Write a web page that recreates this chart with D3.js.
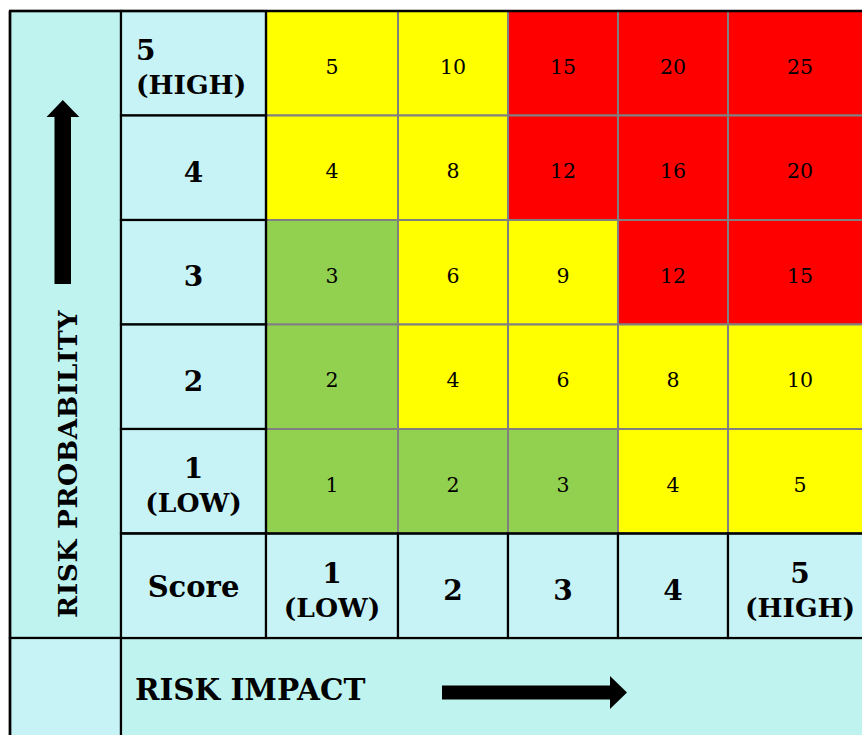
<!DOCTYPE html>
<html>
<head>
<meta charset="utf-8">
<script src="https://cdn.jsdelivr.net/npm/d3@7"></script>
<style>
  body { margin: 0; background: #fff; }
  svg { display: block; }
  text { font-family: "DejaVu Serif", Georgia, serif; fill: #000; }
</style>
</head>
<body>
<svg id="chart" width="862" height="735"></svg>
<script>
// Impact levels (columns, left to right) and probability levels (rows, top to bottom)
const impactLevels = [1, 2, 3, 4, 5];
const probabilityLevels = [5, 4, 3, 2, 1];
const impactLabels = [["1", "(LOW)"], ["2"], ["3"], ["4"], ["5", "(HIGH)"]];
const probabilityLabels = [["5", "(HIGH)"], ["4"], ["3"], ["2"], ["1", "(LOW)"]];
const scoreLabel = "Score";
const probabilityTitle = "RISK PROBABILITY";
const impactTitle = "RISK IMPACT";

// Risk scores per probability row
const scoresP5 = [5, 10, 15, 20, 25];
const scoresP4 = [4, 8, 12, 16, 20];
const scoresP3 = [3, 6, 9, 12, 15];
const scoresP2 = [2, 4, 6, 8, 10];
const scoresP1 = [1, 2, 3, 4, 5];

// Rating band of each cell
const ratingP5 = ["medium", "medium", "high", "high", "high"];
const ratingP4 = ["medium", "medium", "high", "high", "high"];
const ratingP3 = ["low", "medium", "medium", "high", "high"];
const ratingP2 = ["low", "medium", "medium", "medium", "medium"];
const ratingP1 = ["low", "low", "low", "medium", "medium"];

const scoreRows = [scoresP5, scoresP4, scoresP3, scoresP2, scoresP1];
const ratingRows = [ratingP5, ratingP4, ratingP3, ratingP2, ratingP1];

const ratingColor = d3.scaleOrdinal()
  .domain(["low", "medium", "high"])
  .range(["#92d050", "#ffff00", "#ff0000"]);

const headerFill = "#c7f2f6";
const axisFill = "#bff3ef";
const gridGray = "#808080";

const svg = d3.select("#chart");

// Rows: five probability rows plus the impact header row
const y = d3.scaleBand()
  .domain([...probabilityLevels, "score"])
  .range([11, 638]);

// Column edges: title strip, label column, five impact columns
const colKeys = ["axis", "label", ...impactLevels, "end"];
const xEdge = d3.scaleOrdinal()
  .domain(colKeys)
  .range([10, 121, 266, 398, 508, 618, 728, 872]);
const x = k => xEdge(k);
const w = k => xEdge(colKeys[colKeys.indexOf(k) + 1]) - xEdge(k);

// Flatten matrix into cells
const cells = [];
probabilityLevels.forEach((p, i) => {
  impactLevels.forEach((im, j) => {
    cells.push({ p, im, score: scoreRows[i][j], rating: ratingRows[i][j] });
  });
});

// Coloured score cells
const cellG = svg.append("g");
cellG.selectAll("rect")
  .data(cells)
  .join("rect")
  .attr("x", d => x(d.im))
  .attr("y", d => y(d.p))
  .attr("width", d => w(d.im))
  .attr("height", y.bandwidth())
  .attr("fill", d => ratingColor(d.rating))
  .attr("stroke", gridGray)
  .attr("stroke-width", 2);

cellG.selectAll("text")
  .data(cells)
  .join("text")
  .attr("x", d => x(d.im) + w(d.im) / 2)
  .attr("y", d => y(d.p) + y.bandwidth() / 2 + 10.5)
  .attr("text-anchor", "middle")
  .attr("font-size", 20.5)
  .text(d => d.score);

// Axis strips (left title column and bottom title row)
svg.append("rect")
  .attr("x", x("axis")).attr("y", y(5))
  .attr("width", w("axis")).attr("height", 638 - y(5))
  .attr("fill", axisFill).attr("stroke", "#000").attr("stroke-width", 2.2);
svg.append("rect")
  .attr("x", x("axis")).attr("y", 638)
  .attr("width", w("axis")).attr("height", 110)
  .attr("fill", headerFill).attr("stroke", "#000").attr("stroke-width", 2.2);
svg.append("rect")
  .attr("x", x("label")).attr("y", 638)
  .attr("width", x("end") - x("label")).attr("height", 110)
  .attr("fill", axisFill).attr("stroke", "#000").attr("stroke-width", 2.2);

// Header cells: probability labels (left) and impact labels (bottom)
const headerCells = [];
probabilityLevels.forEach((p, i) => headerCells.push({ col: "label", row: p, lines: probabilityLabels[i], start: i === 0 }));
headerCells.push({ col: "label", row: "score", lines: [scoreLabel], word: true });
impactLevels.forEach((im, j) => headerCells.push({ col: im, row: "score", lines: impactLabels[j] }));

const hg = svg.append("g");
hg.selectAll("rect")
  .data(headerCells)
  .join("rect")
  .attr("x", d => x(d.col))
  .attr("y", d => y(d.row))
  .attr("width", d => w(d.col))
  .attr("height", y.bandwidth())
  .attr("fill", headerFill)
  .attr("stroke", "#000")
  .attr("stroke-width", 2.2);

headerCells.forEach(d => {
  const top = y(d.row);
  const cx = x(d.col) + w(d.col) / 2;
  const g = hg.append("g");
  if (d.lines.length === 2) {
    const tx = d.start ? x(d.col) + 15 : cx;
    const anchor = d.start ? "start" : "middle";
    g.append("text").attr("x", tx).attr("y", top + 49)
      .attr("text-anchor", anchor).attr("font-weight", "bold").attr("font-size", 28)
      .text(d.lines[0]);
    g.append("text").attr("x", tx).attr("y", top + 83)
      .attr("text-anchor", anchor).attr("font-weight", "bold").attr("font-size", 26.5)
      .text(d.lines[1]);
  } else if (d.word) {
    g.append("text").attr("x", cx).attr("y", top + y.bandwidth() / 2 + 11)
      .attr("text-anchor", "middle").attr("font-weight", "bold").attr("font-size", 29)
      .text(d.lines[0]);
  } else {
    g.append("text").attr("x", cx).attr("y", top + y.bandwidth() / 2 + 14)
      .attr("text-anchor", "middle").attr("font-weight", "bold").attr("font-size", 28)
      .text(d.lines[0]);
  }
});

// Grid border between score area and header cells, and outer frame
svg.append("line").attr("x1", x("label")).attr("x2", x("end"))
  .attr("y1", y("score")).attr("y2", y("score")).attr("stroke", "#000").attr("stroke-width", 2.2);
svg.append("line").attr("x1", x(1)).attr("x2", x(1))
  .attr("y1", y(5)).attr("y2", y("score")).attr("stroke", "#000").attr("stroke-width", 2.2);
svg.append("line").attr("x1", x("axis") - 1).attr("x2", 862)
  .attr("y1", y(5)).attr("y2", y(5)).attr("stroke", "#000").attr("stroke-width", 2.6);
svg.append("line").attr("x1", x("axis")).attr("x2", x("axis"))
  .attr("y1", y(5)).attr("y2", 735).attr("stroke", "#000").attr("stroke-width", 2.6);

// Axis titles
svg.append("text")
  .attr("transform", "translate(77,464) rotate(-90)")
  .attr("text-anchor", "middle")
  .attr("font-weight", "bold")
  .attr("font-size", 26.5)
  .attr("letter-spacing", 0.6)
  .text(probabilityTitle);

svg.append("text")
  .attr("x", 135).attr("y", 700)
  .attr("font-weight", "bold")
  .attr("font-size", 29.5)
  .text(impactTitle);

// Direction arrows
const up = d3.path();
up.moveTo(62.8, 100); up.lineTo(79.3, 117); up.lineTo(71, 117); up.lineTo(71, 284);
up.lineTo(54.5, 284); up.lineTo(54.5, 117); up.lineTo(46.5, 117); up.closePath();
svg.append("path").attr("d", up.toString()).attr("fill", "#000");

const right = d3.path();
right.moveTo(627, 692.5); right.lineTo(610, 709); right.lineTo(610, 699.5); right.lineTo(442, 699.5);
right.lineTo(442, 685.5); right.lineTo(610, 685.5); right.lineTo(610, 676); right.closePath();
svg.append("path").attr("d", right.toString()).attr("fill", "#000");
</script>
</body>
</html>
